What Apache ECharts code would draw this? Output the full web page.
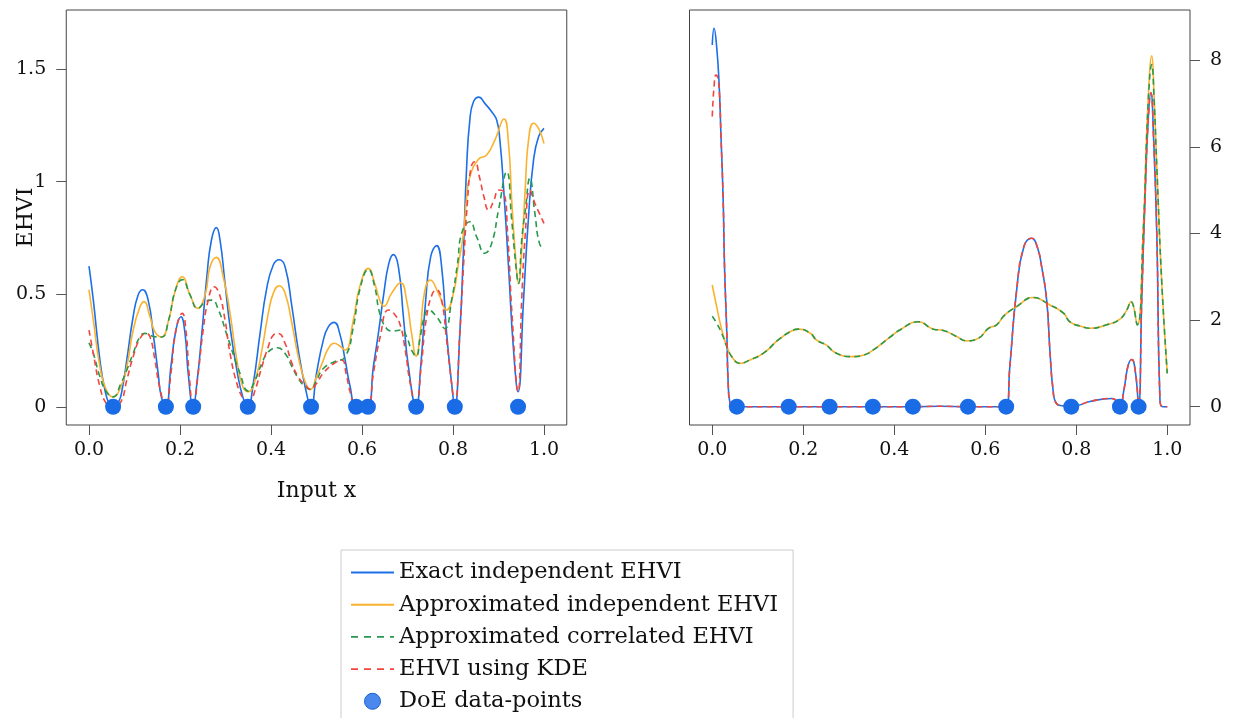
<!DOCTYPE html>
<html><head><meta charset="utf-8">
<script src="https://cdn.jsdelivr.net/npm/echarts@6/dist/echarts.min.js"></script>
<style>html,body{margin:0;padding:0;background:#fff}#c{width:1237px;height:718px}</style>
</head><body><div id="c"></div>
<script>
const xTicks = [0, 0.2, 0.4, 0.6, 0.8, 1.0];
const leftYTicks = [0, 0.5, 1, 1.5];
const rightYTicks = [0, 2, 4, 6, 8];
const names = ['Exact independent EHVI', 'Approximated independent EHVI', 'Approximated correlated EHVI', 'EHVI using KDE', 'DoE data-points'];

const leftExact = [[0,0.625],[0.0095,0.474],[0.024,0.207],[0.035,0.074],[0.045,0.01],[0.053,0],[0.065,0.02],[0.074,0.09],[0.083,0.207],[0.097,0.40],[0.108,0.497],[0.118,0.52],[0.13,0.474],[0.141,0.326],[0.152,0.148],[0.159,0.044],[0.169,0],[0.18,0.178],[0.191,0.34],[0.202,0.40],[0.211,0.326],[0.218,0.148],[0.229,0],[0.237,0.103],[0.248,0.326],[0.259,0.578],[0.269,0.74],[0.28,0.796],[0.288,0.74],[0.299,0.548],[0.31,0.355],[0.325,0.163],[0.338,0.044],[0.349,0],[0.361,0.103],[0.376,0.326],[0.39,0.519],[0.405,0.63],[0.418,0.653],[0.431,0.622],[0.446,0.444],[0.46,0.252],[0.475,0.089],[0.488,0],[0.5,0.148],[0.515,0.296],[0.526,0.355],[0.539,0.375],[0.551,0.326],[0.563,0.207],[0.574,0.089],[0.587,0],[0.6,0.005],[0.613,0],[0.625,0.178],[0.636,0.326],[0.648,0.504],[0.659,0.637],[0.669,0.676],[0.68,0.622],[0.691,0.40],[0.702,0.178],[0.719,0],[0.729,0.178],[0.74,0.474],[0.751,0.667],[0.764,0.716],[0.775,0.622],[0.786,0.326],[0.797,0.103],[0.804,0],[0.815,0.326],[0.823,0.696],[0.83,1.066],[0.837,1.274],[0.845,1.355],[0.857,1.376],[0.87,1.348],[0.885,1.311],[0.896,1.274],[0.903,1.185],[0.911,0.978],[0.922,0.622],[0.933,0.252],[0.943,0.067],[0.955,0.474],[0.966,0.844],[0.977,1.096],[0.988,1.2],[1.0,1.237]];
const leftApproxInd = [[0,0.52],[0.0095,0.385],[0.024,0.178],[0.038,0.074],[0.053,0.044],[0.07,0.089],[0.083,0.178],[0.097,0.34],[0.112,0.444],[0.121,0.467],[0.134,0.40],[0.145,0.333],[0.16,0.31],[0.175,0.385],[0.19,0.519],[0.205,0.578],[0.222,0.497],[0.239,0.437],[0.256,0.504],[0.266,0.622],[0.28,0.664],[0.295,0.578],[0.31,0.415],[0.325,0.207],[0.338,0.089],[0.35,0.067],[0.365,0.118],[0.38,0.252],[0.394,0.415],[0.405,0.504],[0.418,0.538],[0.431,0.504],[0.446,0.37],[0.46,0.222],[0.475,0.111],[0.487,0.077],[0.5,0.133],[0.515,0.207],[0.526,0.259],[0.539,0.282],[0.551,0.27],[0.563,0.252],[0.581,0.385],[0.595,0.533],[0.614,0.615],[0.628,0.548],[0.639,0.474],[0.648,0.447],[0.665,0.504],[0.685,0.551],[0.698,0.474],[0.709,0.326],[0.719,0.225],[0.728,0.326],[0.737,0.504],[0.75,0.563],[0.768,0.504],[0.786,0.43],[0.801,0.504],[0.812,0.637],[0.823,0.77],[0.83,0.933],[0.837,1.022],[0.856,1.10],[0.874,1.119],[0.892,1.185],[0.912,1.279],[0.922,1.17],[0.929,0.919],[0.937,0.681],[0.944,0.548],[0.951,0.696],[0.959,0.978],[0.966,1.185],[0.977,1.26],[0.988,1.237],[1.0,1.17]];
const leftApproxCorr = [[0,0.284],[0.0095,0.237],[0.024,0.133],[0.038,0.067],[0.053,0.044],[0.07,0.103],[0.083,0.163],[0.097,0.237],[0.112,0.311],[0.123,0.326],[0.134,0.318],[0.145,0.311],[0.16,0.31],[0.175,0.385],[0.19,0.519],[0.205,0.565],[0.222,0.497],[0.239,0.437],[0.256,0.467],[0.27,0.474],[0.284,0.433],[0.302,0.326],[0.332,0.148],[0.35,0.07],[0.365,0.118],[0.38,0.193],[0.394,0.244],[0.414,0.262],[0.431,0.237],[0.446,0.178],[0.46,0.126],[0.475,0.089],[0.487,0.077],[0.5,0.118],[0.515,0.17],[0.539,0.2],[0.563,0.222],[0.581,0.355],[0.595,0.519],[0.614,0.61],[0.628,0.533],[0.639,0.415],[0.654,0.348],[0.667,0.337],[0.687,0.341],[0.698,0.311],[0.709,0.252],[0.719,0.225],[0.728,0.311],[0.737,0.4],[0.746,0.43],[0.764,0.4],[0.782,0.348],[0.797,0.474],[0.81,0.637],[0.819,0.77],[0.837,0.822],[0.852,0.755],[0.87,0.682],[0.885,0.726],[0.9,0.874],[0.918,1.044],[0.929,0.83],[0.937,0.652],[0.944,0.548],[0.951,0.74],[0.959,0.874],[0.969,1.015],[0.98,0.859],[0.99,0.726],[1.0,0.70]];
const leftKDE = [[0,0.341],[0.0095,0.237],[0.024,0.089],[0.038,0.015],[0.053,0],[0.07,0.022],[0.083,0.118],[0.097,0.222],[0.112,0.303],[0.125,0.326],[0.134,0.311],[0.145,0.207],[0.155,0.089],[0.169,0],[0.18,0.148],[0.191,0.34],[0.205,0.415],[0.213,0.34],[0.22,0.148],[0.229,0],[0.24,0.148],[0.25,0.326],[0.262,0.474],[0.275,0.533],[0.286,0.504],[0.299,0.385],[0.31,0.237],[0.325,0.103],[0.338,0.037],[0.349,0],[0.365,0.074],[0.38,0.178],[0.394,0.267],[0.405,0.318],[0.416,0.326],[0.431,0.281],[0.446,0.193],[0.46,0.133],[0.475,0.096],[0.487,0.077],[0.5,0.103],[0.515,0.15],[0.539,0.193],[0.556,0.207],[0.565,0.148],[0.575,0.059],[0.587,0],[0.6,0.005],[0.613,0],[0.625,0.148],[0.64,0.311],[0.658,0.43],[0.67,0.415],[0.684,0.363],[0.695,0.252],[0.706,0.103],[0.719,0],[0.73,0.178],[0.742,0.4],[0.755,0.504],[0.764,0.519],[0.775,0.474],[0.786,0.296],[0.797,0.103],[0.804,0],[0.815,0.326],[0.823,0.622],[0.832,0.918],[0.84,1.066],[0.848,1.089],[0.858,1.022],[0.868,0.933],[0.878,0.874],[0.89,0.918],[0.9,0.963],[0.911,0.956],[0.92,0.77],[0.93,0.40],[0.943,0.067],[0.951,0.474],[0.959,0.77],[0.969,0.963],[0.98,0.904],[0.99,0.859],[1.0,0.815]];
const leftDoE = [0.053, 0.169, 0.229, 0.349, 0.488, 0.587, 0.613, 0.719, 0.804, 0.943];

const rightExact = [[0,8.35],[0.004,8.74],[0.0097,8.31],[0.015,7.47],[0.019,6.31],[0.024,4.77],[0.027,3.23],[0.032,1.70],[0.035,0.54],[0.039,0.08],[0.045,0],[0.054,0],[0.168,0],[0.258,0],[0.353,0],[0.441,0],[0.5,0.01],[0.562,0],[0.6,0],[0.646,0],[0.654,0.92],[0.669,2.69],[0.685,3.70],[0.702,3.89],[0.714,3.70],[0.724,3.23],[0.735,2.46],[0.742,1.31],[0.749,0.39],[0.756,0.08],[0.77,0.02],[0.789,0],[0.83,0.12],[0.878,0.19],[0.89,0.12],[0.896,0],[0.905,0.4],[0.914,0.95],[0.922,1.09],[0.93,0.8],[0.937,0.04],[0.944,2.5],[0.951,4.77],[0.958,6.6],[0.964,7.25],[0.97,6.2],[0.977,4.0],[0.984,0.15],[0.99,0],[1.0,0]];
const rightApproxInd = [[0,2.81],[0.0097,2.31],[0.021,1.77],[0.032,1.39],[0.043,1.155],[0.061,1.0],[0.083,1.08],[0.112,1.23],[0.145,1.54],[0.171,1.73],[0.189,1.79],[0.215,1.70],[0.229,1.54],[0.251,1.42],[0.27,1.25],[0.306,1.155],[0.332,1.19],[0.354,1.31],[0.39,1.60],[0.412,1.77],[0.453,1.96],[0.486,1.79],[0.508,1.76],[0.537,1.62],[0.559,1.52],[0.585,1.58],[0.607,1.81],[0.625,1.89],[0.643,2.12],[0.669,2.31],[0.705,2.52],[0.742,2.35],[0.772,2.16],[0.786,1.96],[0.812,1.85],[0.83,1.81],[0.867,1.89],[0.896,2.02],[0.911,2.23],[0.92,2.43],[0.934,1.89],[0.947,4.0],[0.958,7.08],[0.966,8.1],[0.971,7.2],[0.977,5.54],[0.988,2.85],[1.0,0.77]];
const rightApproxCorr = [[0,2.09],[0.0097,1.93],[0.021,1.69],[0.032,1.39],[0.043,1.155],[0.061,1.0],[0.083,1.08],[0.112,1.23],[0.145,1.54],[0.171,1.73],[0.189,1.79],[0.215,1.70],[0.229,1.54],[0.251,1.42],[0.27,1.25],[0.306,1.155],[0.332,1.19],[0.354,1.31],[0.39,1.60],[0.412,1.77],[0.453,1.96],[0.486,1.79],[0.508,1.76],[0.537,1.62],[0.559,1.52],[0.585,1.58],[0.607,1.81],[0.625,1.89],[0.643,2.12],[0.669,2.31],[0.705,2.52],[0.742,2.35],[0.772,2.16],[0.786,1.96],[0.812,1.85],[0.83,1.81],[0.867,1.89],[0.896,2.02],[0.911,2.23],[0.92,2.43],[0.934,1.89],[0.947,4.0],[0.958,7.0],[0.966,7.9],[0.971,7.1],[0.977,5.54],[0.988,2.85],[1.0,0.77]];
const rightKDE = [[0,6.70],[0.004,7.4],[0.008,7.66],[0.012,7.6],[0.016,7.2],[0.019,6.31],[0.024,4.77],[0.027,3.23],[0.032,1.70],[0.035,0.54],[0.039,0.08],[0.045,0],[0.054,0],[0.168,0],[0.258,0],[0.353,0],[0.441,0],[0.5,0.01],[0.562,0],[0.6,0],[0.646,0],[0.654,0.92],[0.669,2.69],[0.685,3.70],[0.702,3.89],[0.714,3.70],[0.724,3.23],[0.735,2.46],[0.742,1.31],[0.749,0.39],[0.756,0.08],[0.77,0.02],[0.789,0],[0.83,0.12],[0.878,0.19],[0.89,0.12],[0.896,0],[0.905,0.4],[0.914,0.95],[0.922,1.09],[0.93,0.8],[0.937,0.04],[0.944,2.5],[0.951,4.77],[0.958,6.6],[0.964,7.25],[0.97,6.2],[0.977,4.0],[0.984,0.15],[0.99,0],[1.0,0]];
const rightDoE = [0.054, 0.168, 0.258, 0.353, 0.441, 0.562, 0.646, 0.789, 0.896, 0.937];

const FONT = 'DejaVu Serif';
const C_BLUE = '#1c6fe6', C_ORANGE = '#fab22e', C_GREEN = '#27994d', C_RED = '#f2453d', C_DOE = '#1a6be6';

function xAxis(gi, name) {
  return {
    type: 'value', gridIndex: gi, min: -0.05, max: 1.05, position: 'bottom',
    name: name || '', nameLocation: 'middle', nameGap: 55, nameMoveOverlap: false,
    nameTextStyle: { fontFamily: FONT, fontSize: 22, color: '#111' },
    axisLine: { show: false, onZero: false },
    axisTick: { show: true, inside: false, length: 10, customValues: xTicks, lineStyle: { color: '#555' } },
    axisLabel: { customValues: xTicks, formatter: v => v.toFixed(1), fontFamily: FONT, fontSize: 19, color: '#111', margin: 16 },
    splitLine: { show: false }
  };
}
function yAxis(gi, min, max, ticks, pos, name) {
  return {
    type: 'value', gridIndex: gi, min: min, max: max, position: pos,
    name: name || '', nameLocation: 'middle', nameGap: 29, nameRotate: 90, nameMoveOverlap: false,
    nameTextStyle: { fontFamily: FONT, fontSize: 22, color: '#111' },
    axisLine: { show: false, onZero: false },
    axisTick: { show: true, inside: false, length: 10, customValues: ticks, lineStyle: { color: '#555' } },
    axisLabel: { customValues: ticks, formatter: v => String(v), fontFamily: FONT, fontSize: 19, color: '#111', margin: 20 },
    splitLine: { show: false }
  };
}
function lineSeries(i, name, data, color, dashed) {
  return {
    type: 'line', name: name, xAxisIndex: i, yAxisIndex: i, data: data,
    showSymbol: false, symbol: 'none', smooth: 0.5,
    lineStyle: { color: color, width: 1.6, type: dashed ? [6, 4] : 'solid' },
    itemStyle: { color: color }, z: 2
  };
}
function doeSeries(i, xs) {
  return {
    type: 'scatter', name: names[4], xAxisIndex: i, yAxisIndex: i,
    data: xs.map(t => [t, 0]), symbol: 'circle', symbolSize: 16,
    itemStyle: { color: C_DOE, opacity: 1 }, z: 5
  };
}
const hiddenSym = { color: 'rgba(0,0,0,0)', borderColor: 'rgba(0,0,0,0)', borderWidth: 0, opacity: 0 };
const legendDash = (c) => ({ color: c, width: 1.6, type: [7, 6] });

const chart = echarts.init(document.getElementById('c'), null, { renderer: 'canvas' });
chart.setOption({
  animation: false,
  backgroundColor: '#fff',
  grid: [
    { left: 66.25, top: 10, width: 500.5, height: 415, containLabel: false, outerBoundsMode: 'none', show: true, borderColor: '#444', borderWidth: 1, backgroundColor: 'transparent' },
    { left: 689.5, top: 10, width: 500.5, height: 415, containLabel: false, outerBoundsMode: 'none', show: true, borderColor: '#444', borderWidth: 1, backgroundColor: 'transparent' }
  ],
  xAxis: [xAxis(0, 'Input x'), xAxis(1, '')],
  yAxis: [yAxis(0, -0.081, 1.763, leftYTicks, 'left', 'EHVI'), yAxis(1, -0.423, 9.16, rightYTicks, 'right', '')],
  legend: {
    orient: 'vertical', left: 341, top: 550, height: 220,
    padding: [11, 15, 10, 9], itemGap: 9.2, itemWidth: 43, itemHeight: 16,
    backgroundColor: '#fff', borderColor: '#ccc', borderWidth: 1, borderRadius: 0,
    textStyle: { fontFamily: FONT, fontSize: 22.5, color: '#111', lineHeight: 22 },
    data: [
      { name: names[0], itemStyle: hiddenSym }, { name: names[1], itemStyle: hiddenSym },
      { name: names[2], itemStyle: hiddenSym, lineStyle: legendDash(C_GREEN) },
      { name: names[3], itemStyle: hiddenSym, lineStyle: legendDash(C_RED) },
      { name: names[4], icon: 'circle', itemStyle: { color: '#4a88ee', borderColor: '#1a5fd0', borderWidth: 1 } }
    ]
  },
  series: [
    lineSeries(0, names[0], leftExact, C_BLUE, false),
    lineSeries(0, names[1], leftApproxInd, C_ORANGE, false),
    lineSeries(0, names[2], leftApproxCorr, C_GREEN, true),
    lineSeries(0, names[3], leftKDE, C_RED, true),
    doeSeries(0, leftDoE),
    lineSeries(1, names[0], rightExact, C_BLUE, false),
    lineSeries(1, names[1], rightApproxInd, C_ORANGE, false),
    lineSeries(1, names[2], rightApproxCorr, C_GREEN, true),
    lineSeries(1, names[3], rightKDE, C_RED, true),
    doeSeries(1, rightDoE)
  ]
});
</script>
</body></html>
